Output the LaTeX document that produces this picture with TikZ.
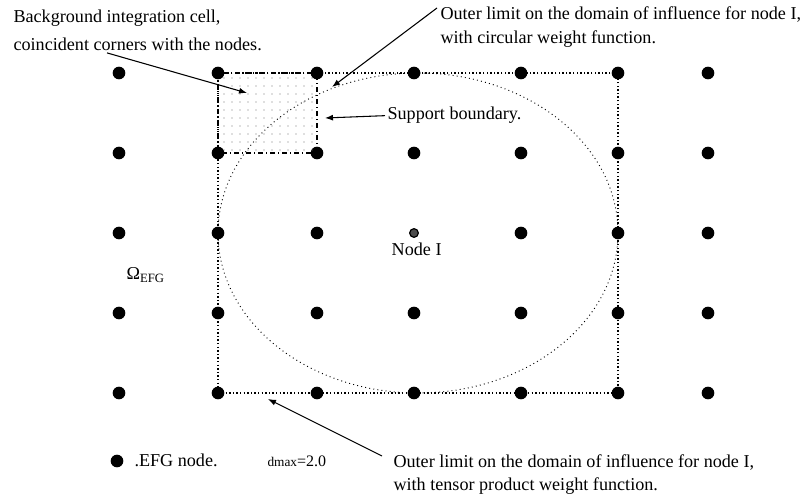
\documentclass[tikz,border=0pt]{standalone}
\usepackage{fontspec}
\setmainfont{Liberation Serif}
\usetikzlibrary{arrows.meta,calc,positioning,patterns.meta}

\begin{document}
\begin{tikzpicture}[
  x=0.75pt,
  y=-0.75pt,
  >={Latex[length=6pt, width=4.5pt]},
  line width=0.8pt,
  every node/.style={font=\fontsize{13.6}{18}\selectfont},
  efgnode/.style={circle, fill=black, inner sep=0pt, minimum size=9.5pt},
  nodeI/.style={circle, draw, fill=black!70, inner sep=0pt, minimum size=6.5pt, line width=0.9pt},
  lbl/.style={inner sep=0pt, align=left},
  callout/.style={->, line width=0.8pt},
  tpbound/.style={line width=1.1pt, dash pattern=on 1.1pt off 1.6pt},
  circbound/.style={line width=0.7pt, dash pattern=on 0.7pt off 2.4pt},
  cellbound/.style={line width=1pt, dash pattern=on 4pt off 2pt on 1pt off 2pt},
]
\useasboundingbox (0,0) rectangle (810,502);

% EFG nodes, 7 x 5, node I left out
\foreach \x [count=\c] in {119,218,317,414,521,618,708}
  \foreach \y [count=\r] in {73,153,233,313,393}
    {\ifnum\c\r=43 \else \node[efgnode] (n-\c-\r) at (\x,\y) {}; \fi}
\node[nodeI] (nI) at (414,233) {};
\node[lbl, below=3.5pt of nI, xshift=2pt] (nIlbl) {Node I};

% integration cell and the two support limits
\fill[pattern={Dots[radius=0.45pt, distance=6pt]}, pattern color=black!55] (n-2-1.center) rectangle (n-3-2.center);
\draw[cellbound] (n-2-1.center) rectangle (n-3-2.center);
\draw[tpbound] (n-2-1.center) rectangle (n-6-5.center);
\draw[circbound] ($(n-2-1)!0.5!(n-6-5)$) ellipse [x radius=150pt, y radius=120pt];

% labels
\node[lbl, anchor=north west, font=\fontsize{13.6}{21}\selectfont] (bgtext) at (13,9) {Background integration cell,\\coincident corners with the nodes.};
\node[lbl, anchor=north west] (circtext) at (440,6) {Outer limit on the domain of influence for node I,\\with circular weight function.};
\node[lbl, anchor=base west] (suptext) at (387,120) {Support boundary.};
\node[lbl, anchor=north west, font=\fontsize{13.6}{17.3}\selectfont] (tenstext) at (393,454) {Outer limit on the domain of influence for node I,\\with tensor product weight function.};
\node[lbl, anchor=base west] (omega) at (126,280) {Ω\textsubscript{EFG}};

% legend
\node[efgnode] (legdot) at (117,461) {};
\node[lbl, anchor=base west] (legtext) at (134,466) {.EFG node.};
\node[lbl, anchor=base west, font=\fontsize{12}{13}\selectfont] (dmax) at (267,466) {{\fontsize{10}{11}\selectfont dmax}=2.0};

% callouts
\coordinate (tipbg) at (247,93);
\coordinate (tipcirc) at (332,87);
\coordinate (tipsup) at (325,118);
\coordinate (tiptens) at (268,399);
\draw[callout] ($(bgtext.south west)+(94,2)$) -- (tipbg);
\draw[callout] ($(circtext.north west)+(-3,2)$) -- (tipcirc);
\draw[callout] ($(suptext.west)+(-2,0)$) -- (tipsup);
\draw[callout] ($(tenstext.north west)+(-11,2)$) -- (tiptens);
\end{tikzpicture}
\end{document}
